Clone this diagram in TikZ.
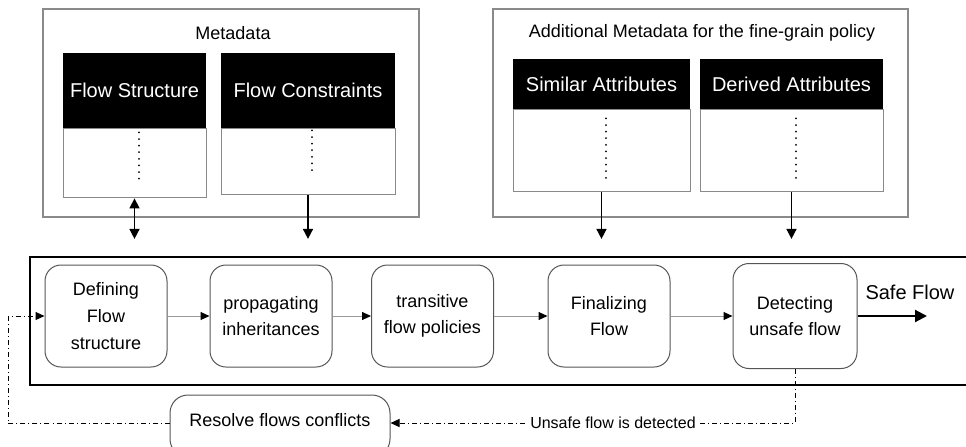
\documentclass[tikz,border=0pt]{standalone}
\usepackage{fontspec}
\setmainfont{Liberation Sans}
\usetikzlibrary{arrows.meta,positioning,calc}
\definecolor{mdLine}{HTML}{8A8A8A}
\definecolor{stepLine}{HTML}{555555}
\definecolor{flowLine}{HTML}{9A9A9A}
\tikzset{
  mdouter/.style={draw=mdLine,line width=0.6pt,inner sep=0pt},
  mdtitle/.style={font=\fontsize{9}{11}\selectfont,inner sep=1pt},
  mdhead/.style={fill=black,text=white,inner sep=0pt,font=\fontsize{10}{12}\selectfont},
  mdbody/.style={draw=mdLine,fill=white,line width=0.5pt,inner sep=0pt},
  mddots/.style={line width=1pt,line cap=round,dash pattern=on 0pt off 3.3pt},
  mdlink/.style={-{Triangle[length=5pt,width=5pt]},line width=0.8pt,shorten >=8.5pt},
  mdboth/.style={mdlink,{Triangle[length=5pt,width=5pt]}-{Triangle[length=5pt,width=5pt]}},
  fstep/.style={draw=stepLine,line width=0.5pt,rounded corners=8pt,align=center,
                minimum width=61pt,minimum height=51pt,inner sep=2pt,
                font=\fontsize{9}{13.3}\selectfont},
  fcontainer/.style={draw,line width=1.1pt,inner sep=0pt},
  fflow/.style={-{Triangle[length=4.5pt,width=4pt,black]},draw=flowLine,line width=0.5pt},
  fsafe/.style={-{Triangle[length=6pt,width=6pt]},line width=1.1pt},
  floop/.style={-{Triangle[length=4.5pt,width=4pt]},line width=0.5pt,
                dash pattern=on 2.5pt off 1.5pt on 0.5pt off 1.5pt},
  flbl/.style={fill=white,inner sep=1pt,font=\fontsize{8}{10}\selectfont},
}
\begin{document}
\begin{tikzpicture}[x=0.5pt,y=-0.5pt]
  \useasboundingbox (0,0) rectangle (966,446);
  \node[mdouter,minimum width=188pt,minimum height=104pt] (M) at (231,113) {};
  \node[mdtitle] (Mt) at (233,33) {Metadata};
  \node[mdhead,minimum width=71.5pt,minimum height=37.5pt] (FSh) at (134.5,90.5) {Flow Structure};
  \node[mdbody,minimum width=71.5pt,minimum height=34.5pt,anchor=north] (FS) at (FSh.south) {};
  \node[mdhead,minimum width=87pt,minimum height=37.5pt] (FCh) at (308,90.5) {Flow Constraints};
  \node[mdbody,minimum width=87pt,minimum height=33pt,anchor=north] (FC) at (FCh.south) {};

  \node[mdouter,minimum width=207.5pt,minimum height=104pt] (A) at (700.5,113) {};
  \node[mdtitle] (At) at (702,33) {Additional Metadata for the fine-grain policy};
  \node[mdhead,minimum width=88.5pt,minimum height=25pt] (SAh) at (601.5,84) {Similar Attributes};
  \node[mdbody,minimum width=88.5pt,minimum height=41pt,anchor=north] (SA) at (SAh.south) {};
  \node[mdhead,minimum width=91.5pt,minimum height=25pt] (DAh) at (791.5,84) {Derived Attributes};
  \node[mdbody,minimum width=91.5pt,minimum height=41pt,anchor=north] (DA) at (DAh.south) {};

  \draw[mddots] ([xshift=2.25pt,yshift=-2pt]FS.north) -- ([xshift=2.25pt,yshift=9.5pt]FS.south);
  \draw[mddots] ([xshift=2pt,yshift=-1pt]FC.north) -- ([xshift=2pt,yshift=9.5pt]FC.south);
  \draw[mddots] ([xshift=2.25pt,yshift=-4.5pt]SA.north) -- ([xshift=2.25pt,yshift=7pt]SA.south);
  \draw[mddots] ([xshift=2.25pt,yshift=-4.5pt]DA.north) -- ([xshift=2.25pt,yshift=7pt]DA.south);

  \node[fcontainer,minimum width=471pt,minimum height=64pt] (F) at (501,321) {};
  \draw[mdboth] (FS.south) -- (FS.south |- F.north);
  \foreach \m in {FC,SA,DA}{\draw[mdlink] (\m.south) -- (\m.south |- F.north);}

  \node[fstep] (S1) at (106,316) {Defining\\Flow\\structure};
  \node[fstep] (S2) at (271,316) {propagating\\inheritances};
  \node[fstep] (S3) at (432.5,316) {transitive\\flow policies};
  \node[fstep] (S4) at (609,316) {Finalizing\\Flow};
  \node[fstep,minimum width=62pt,minimum height=52.5pt] (S5) at (795,316) {Detecting\\unsafe flow};
  \foreach \a/\b in {S1/S2,S2/S3,S3/S4,S4/S5}{\draw[fflow] (\a)--(\b);}

  \coordinate (Out) at (927,316);
  \draw[fsafe] (S5) -- (Out);
  \node[font=\fontsize{10}{12}\selectfont] (Sl) at (910,292) {Safe Flow};

  \node[fstep,rounded corners=9pt,minimum width=110pt,minimum height=31pt,
        text depth=6pt] (R) at (280,426) {Resolve flows conflicts};
  \draw[floop] (S5.south) |- node[flbl,pos=0.725]{Unsafe flow is detected} ([yshift=1.5pt]R.east);
  % back round the left side into the first step
  \coordinate (Lx) at (8,316);
  \draw[floop] ([yshift=1.5pt]R.west) -| (Lx) -- (S1.west);
\end{tikzpicture}
\end{document}
